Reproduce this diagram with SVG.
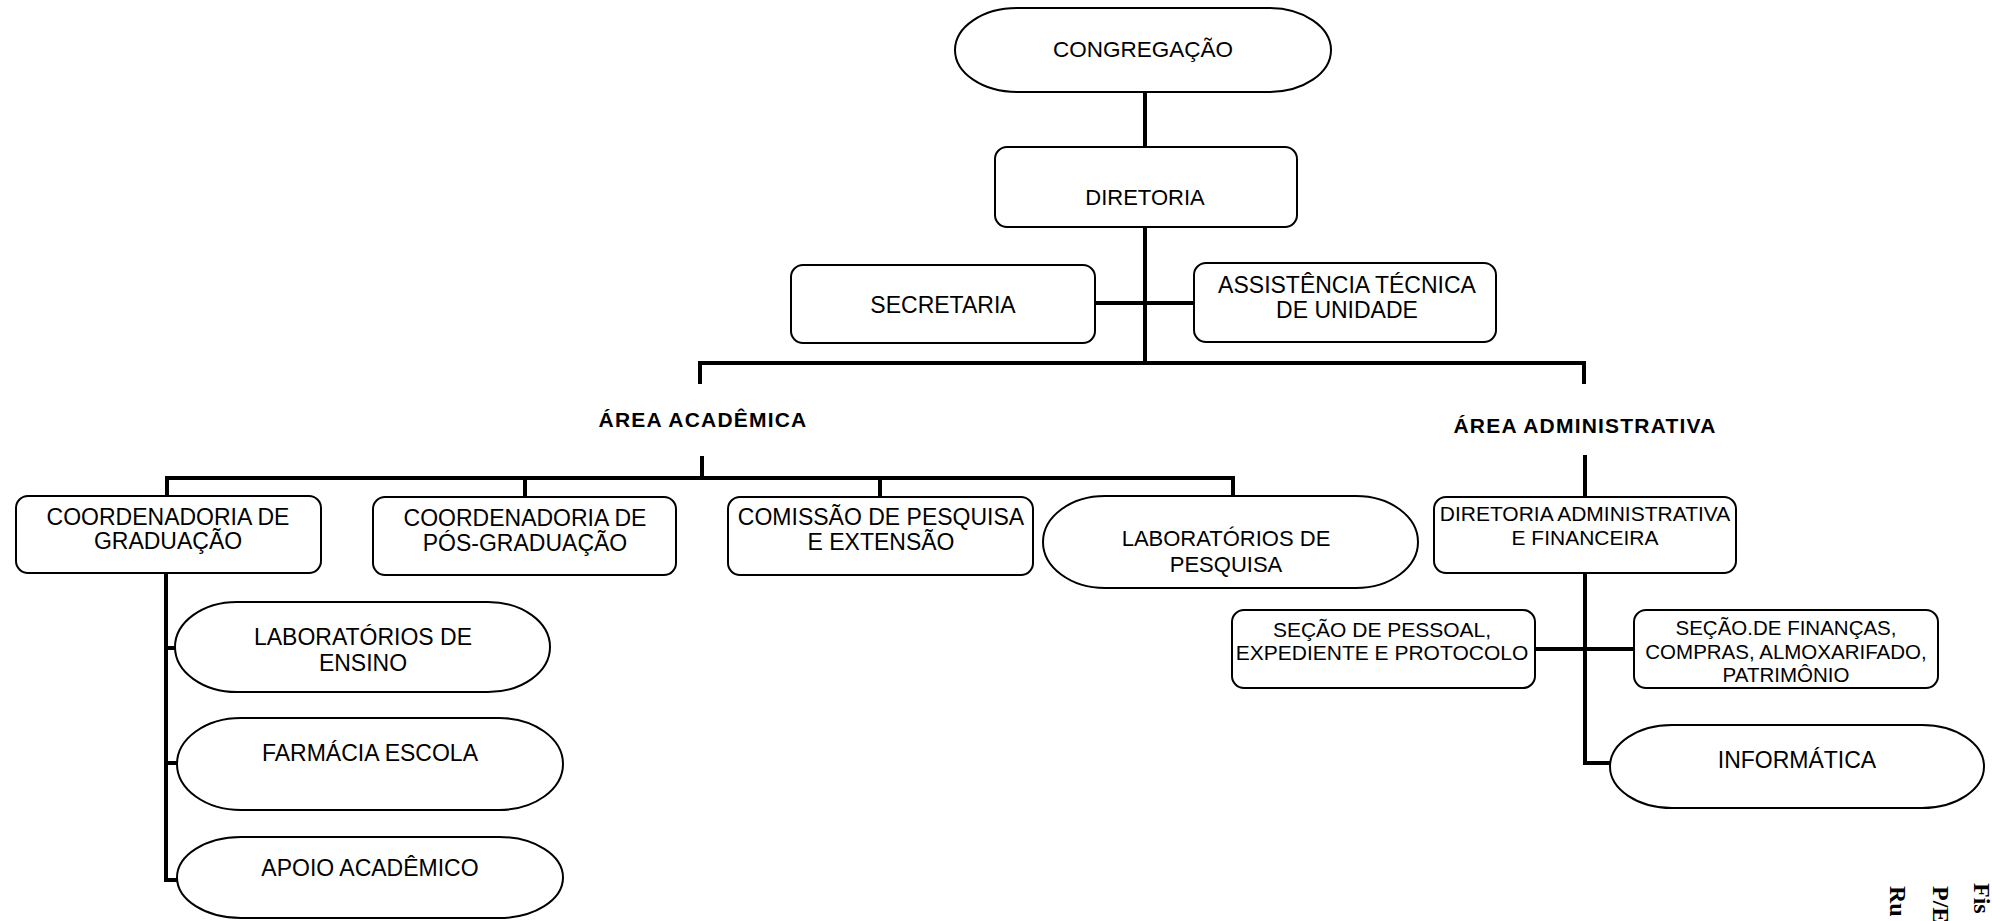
<svg xmlns="http://www.w3.org/2000/svg" width="1992" height="921" viewBox="0 0 1992 921">
<style>
.box{fill:#fff;stroke:#000;stroke-width:2}
.t{font-family:"Liberation Sans",Arial,sans-serif;fill:#000;text-anchor:middle}
.b{font-family:"Liberation Sans",Arial,sans-serif;font-weight:bold;fill:#000;text-anchor:middle;letter-spacing:1.2px}
.c{fill:none;stroke:#000;stroke-width:4;stroke-linecap:square}
.s{font-family:"Liberation Serif","Times New Roman",serif;font-weight:bold;font-size:24px;fill:#000}
</style>
<rect width="1992" height="921" fill="#fff"/>
<g id="connectors">
<path class="c" d="M1145,92V147"/>
<path class="c" d="M1145,227V363"/>
<path class="c" d="M1095,303H1194"/>
<path class="c" d="M700,382V363H1584V382"/>
<path class="c" d="M702,458V478"/>
<path class="c" d="M167,496V478H1233V496"/>
<path class="c" d="M525,478V496"/>
<path class="c" d="M880,478V496"/>
<path class="c" d="M166,573V880H177"/>
<path class="c" d="M166,648H175"/>
<path class="c" d="M166,763H177"/>
<path class="c" d="M1585,457V497"/>
<path class="c" d="M1585,573V763H1610"/>
<path class="c" d="M1535,649H1634"/>
</g>
<g id="congregacao"><rect class="box" x="955" y="8" width="376" height="84" rx="62" ry="42"/><text class="t" font-size="22.5" x="1143" y="57">CONGREGAÇÃO</text></g>
<g id="diretoria"><rect class="box" x="995" y="147" width="302" height="80" rx="12"/><text class="t" font-size="22" x="1145" y="205">DIRETORIA</text></g>
<g id="secretaria"><rect class="box" x="791" y="265" width="304" height="78" rx="12"/><text class="t" font-size="23" x="943" y="313">SECRETARIA</text></g>
<g id="assistencia"><rect class="box" x="1194" y="263" width="302" height="79" rx="12"/><text class="t" font-size="23" x="1347" y="293">ASSISTÊNCIA TÉCNICA</text><text class="t" font-size="23" x="1347" y="318">DE UNIDADE</text></g>
<g id="area-academica"><text class="b" font-size="21" x="703" y="427">ÁREA ACADÊMICA</text></g>
<g id="area-administrativa"><text class="b" font-size="21" x="1585" y="433">ÁREA ADMINISTRATIVA</text></g>
<g id="coord-graduacao"><rect class="box" x="16" y="496" width="305" height="77" rx="12"/><text class="t" font-size="23" x="168" y="525">COORDENADORIA DE</text><text class="t" font-size="23" x="168" y="549">GRADUAÇÃO</text></g>
<g id="coord-pos"><rect class="box" x="373" y="497" width="303" height="78" rx="12"/><text class="t" font-size="23" x="525" y="526">COORDENADORIA DE</text><text class="t" font-size="23" x="525" y="551">PÓS-GRADUAÇÃO</text></g>
<g id="comissao"><rect class="box" x="728" y="497" width="305" height="78" rx="12"/><text class="t" font-size="23" x="881" y="525">COMISSÃO DE PESQUISA</text><text class="t" font-size="23" x="881" y="550">E EXTENSÃO</text></g>
<g id="lab-pesquisa"><rect class="box" x="1043" y="496" width="375" height="92" rx="62" ry="46"/><text class="t" font-size="22" x="1226" y="546">LABORATÓRIOS DE</text><text class="t" font-size="22" x="1226" y="572">PESQUISA</text></g>
<g id="dir-adm"><rect class="box" x="1434" y="497" width="302" height="76" rx="12"/><text class="t" font-size="21" x="1585" y="521">DIRETORIA ADMINISTRATIVA</text><text class="t" font-size="21" x="1585" y="545">E FINANCEIRA</text></g>
<g id="secao-pessoal"><rect class="box" x="1232" y="610" width="303" height="78" rx="12"/><text class="t" font-size="21" x="1382" y="637">SEÇÃO DE PESSOAL,</text><text class="t" font-size="21" x="1382" y="660">EXPEDIENTE E PROTOCOLO</text></g>
<g id="secao-financas"><rect class="box" x="1634" y="610" width="304" height="78" rx="12"/><text class="t" font-size="20.5" x="1786" y="635">SEÇÃO.DE FINANÇAS,</text><text class="t" font-size="20.5" x="1786" y="659">COMPRAS, ALMOXARIFADO,</text><text class="t" font-size="20.5" x="1786" y="682">PATRIMÔNIO</text></g>
<g id="informatica"><rect class="box" x="1610" y="725" width="374" height="83" rx="62" ry="41.5"/><text class="t" font-size="23" x="1797" y="768">INFORMÁTICA</text></g>
<g id="lab-ensino"><rect class="box" x="175" y="602" width="375" height="90" rx="62" ry="45"/><text class="t" font-size="23" x="363" y="645">LABORATÓRIOS DE</text><text class="t" font-size="23" x="363" y="671">ENSINO</text></g>
<g id="farmacia"><rect class="box" x="177" y="718" width="386" height="92" rx="64" ry="46"/><text class="t" font-size="23" x="370" y="761">FARMÁCIA ESCOLA</text></g>
<g id="apoio"><rect class="box" x="177" y="837" width="386" height="81" rx="64" ry="40.5"/><text class="t" font-size="23" x="370" y="876">APOIO ACADÊMICO</text></g>
<g id="stamp">
<text class="s" transform="translate(1974,883) rotate(90)">Fis</text>
<text class="s" transform="translate(1933,886) rotate(90)">P/E</text>
<text class="s" transform="translate(1890,886) rotate(90)">Ru</text>
</g>
</svg>
